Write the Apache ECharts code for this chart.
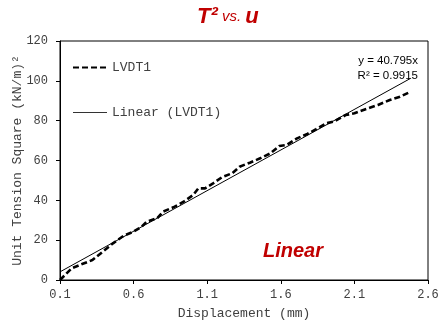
<!DOCTYPE html>
<html>
<head>
<meta charset="utf-8">
<script src="https://cdn.jsdelivr.net/npm/echarts@6/dist/echarts.min.js"></script>
<style>
  html, body { margin: 0; padding: 0; background: #fff; }
  #chart { width: 441px; height: 326px; }
</style>
</head>
<body>
<div id="chart"></div>
<script>
// LVDT1 readings: displacement (mm) vs unit tension squared
const dispX = [0.10, 0.18, 0.25, 0.32, 0.39, 0.46, 0.53, 0.60, 0.655, 0.69, 0.76, 0.80, 0.87, 0.94,
  1.005, 1.04, 1.085, 1.14, 1.20, 1.27, 1.32, 1.39, 1.46, 1.53, 1.59, 1.64, 1.71, 1.78, 1.84,
  1.91, 1.96, 2.04, 2.10, 2.18, 2.26, 2.34, 2.41, 2.48];
const tensionY = [0, 5.9, 8.0, 10.0, 14.2, 18.4, 22.1, 24.3, 26.8, 29.3, 31.0, 34.3, 36.5, 39.3,
  42.7, 46.0, 46.0, 48.5, 51.6, 53.6, 56.9, 58.9, 61.1, 63.6, 67.3, 67.8, 71.1, 73.3, 75.7,
  78.7, 79.5, 82.8, 83.7, 85.9, 87.9, 90.4, 92.0, 94.5];
// excel trendline (through origin), end points
const trendX = [0.1, 2.48];
const trendY = [4.08, 101.17];
const eqLines = ['y = 40.795x', 'R² = 0.9915'];

const mono = '"Liberation Mono", "DejaVu Sans Mono", monospace';
const sans = '"Liberation Sans", Arial, sans-serif';
const labelGray = '#404040';
const red = '#C00000';

const chart = echarts.init(document.getElementById('chart'));

const zip = (xs, ys) => xs.map((x, i) => [x, ys[i]]);

chart.setOption({
  animation: false,
  grid: {
    left: 60, right: 13, top: 41, bottom: 46,
    outerBoundsMode: 'none',
    show: true, borderColor: '#000', borderWidth: 1
  },
  legend: {
    orient: 'vertical',
    left: 67, top: 56,
    itemWidth: 34, itemHeight: 14, itemGap: 32,
    itemStyle: { opacity: 0 },
    textStyle: { fontFamily: mono, fontSize: 13, color: labelGray },
    data: [
      { name: 'LVDT1' },
      { name: 'Linear (LVDT1)', lineStyle: { width: 1, color: '#333' } }
    ]
  },
  xAxis: {
    type: 'value',
    min: 0.1, max: 2.6, interval: 0.5,
    name: 'Displacement (mm)',
    nameLocation: 'middle', nameGap: 27,
    nameTextStyle: { fontFamily: mono, fontSize: 13, color: labelGray },
    splitLine: { show: false },
    axisLine: { lineStyle: { color: '#000', width: 1 } },
    axisTick: { show: true, length: 4, lineStyle: { color: '#000' } },
    axisLabel: {
      fontFamily: mono, fontSize: 12, color: labelGray, margin: 9,
      formatter: v => v.toFixed(1)
    }
  },
  yAxis: {
    type: 'value',
    min: 0, max: 120, interval: 20,
    name: 'Unit Tension Square (kN/m)²',
    nameLocation: 'middle', nameGap: 36, nameRotate: 90,
    nameMoveOverlap: false,
    nameTextStyle: { fontFamily: mono, fontSize: 13, color: labelGray },
    splitLine: { show: false },
    axisLine: { show: true, lineStyle: { color: '#000', width: 1 } },
    axisTick: { show: true, length: 4, lineStyle: { color: '#000' } },
    axisLabel: { fontFamily: mono, fontSize: 12, color: labelGray, margin: 12 }
  },
  series: [
    {
      name: 'LVDT1',
      type: 'line',
      data: zip(dispX, tensionY),
      symbol: 'none',
      itemStyle: { color: '#000' },
      lineStyle: { color: '#000', width: 2.6, type: [6, 3] }
    },
    {
      name: 'Linear (LVDT1)',
      type: 'line',
      data: zip(trendX, trendY),
      symbol: 'none',
      itemStyle: { color: '#000' },
      lineStyle: { color: '#000', width: 1 }
    }
  ],
  graphic: [
    {
      type: 'text', left: 197, top: 6,
      style: {
        text: '{b|T²}{i| vs. }{b|u}',
        rich: {
          b: { fontFamily: sans, fontSize: 22, fontWeight: 'bold', fontStyle: 'italic', fill: red },
          i: { fontFamily: sans, fontSize: 15, fontStyle: 'italic', fill: red }
        }
      }
    },
    {
      type: 'text', x: 418, y: 67,
      style: { text: eqLines[0], font: '11.5px ' + sans, fill: '#000', align: 'right', verticalAlign: 'bottom' }
    },
    {
      type: 'text', x: 418, y: 82,
      style: { text: eqLines[1], font: '11.5px ' + sans, fill: '#000', align: 'right', verticalAlign: 'bottom' }
    },
    {
      type: 'text', x: 293, y: 251,
      style: {
        text: 'Linear', font: 'italic bold 20px ' + sans, fill: red,
        align: 'center', verticalAlign: 'middle'
      }
    }
  ]
});
</script>
</body>
</html>
